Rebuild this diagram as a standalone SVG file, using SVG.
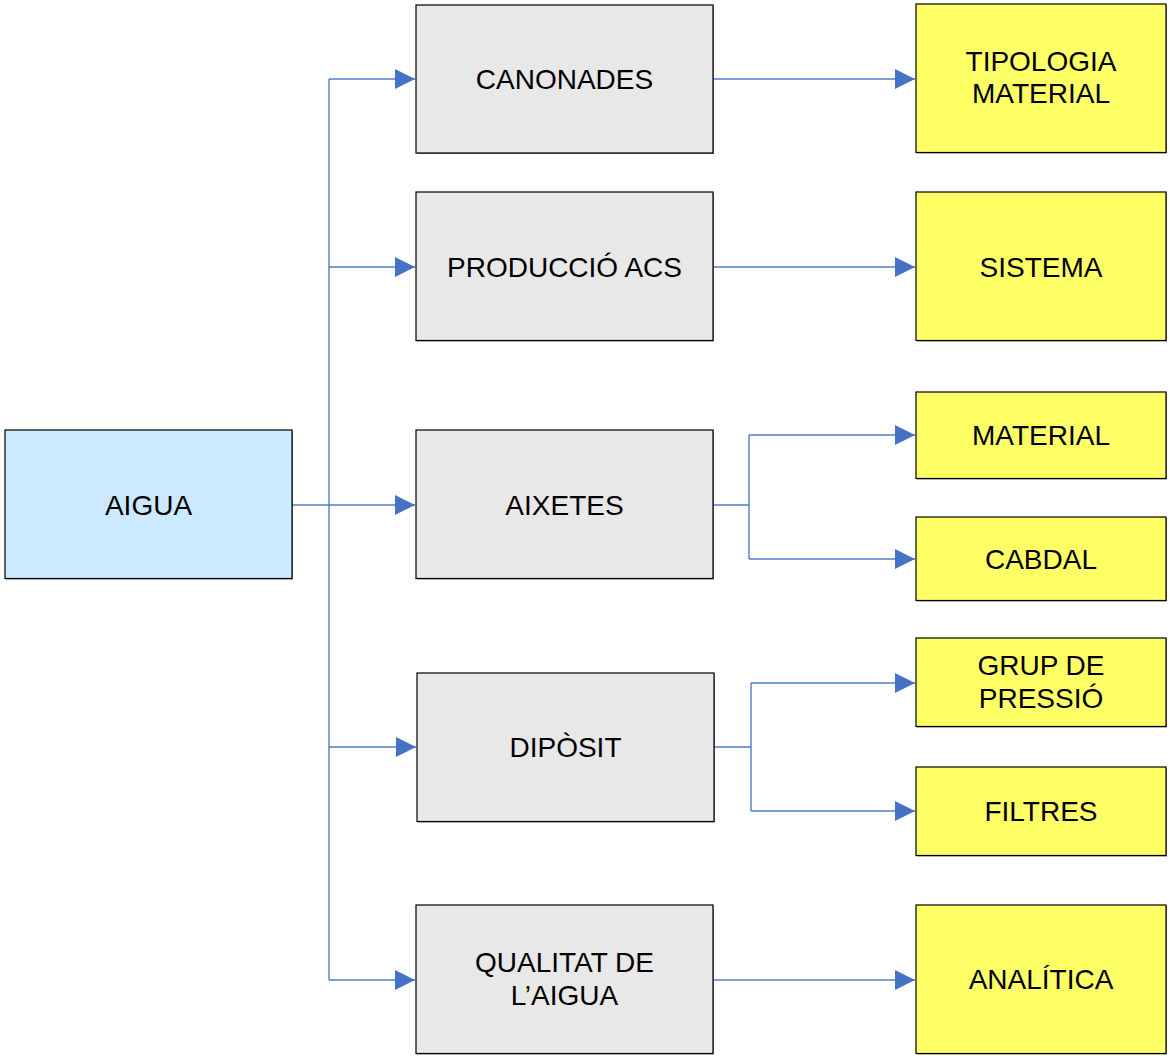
<svg xmlns="http://www.w3.org/2000/svg" width="1170" height="1058" viewBox="0 0 1170 1058">
<style>
.box{stroke:#000;stroke-width:1.2}
.sh{fill:#8a8a8a}
.gray{fill:#e8e8e8}
.blue{fill:#cceaff}
.yel{fill:#ffff66}
text{font-family:"Liberation Sans",Arial,sans-serif;font-size:28px;fill:#000;text-anchor:middle}
.c{fill:none;stroke:#4f7fc4;stroke-width:1.4}
</style>
<defs>
<marker id="arr" markerUnits="userSpaceOnUse" markerWidth="20" markerHeight="20" viewBox="0 0 19 19" refX="19" refY="9.5" orient="auto">
<path d="M0,0 L19,9.5 L0,19 z" fill="#4472c4"/>
</marker>
</defs>
<rect width="1170" height="1058" fill="#fff"/>
<g id="connectors">
<path class="c" d="M329,79 V980"/>
<path class="c" d="M292,505 H415" marker-end="url(#arr)"/>
<path class="c" d="M329,79 H415" marker-end="url(#arr)"/>
<path class="c" d="M329,267 H415" marker-end="url(#arr)"/>
<path class="c" d="M329,747 H416" marker-end="url(#arr)"/>
<path class="c" d="M329,980 H415" marker-end="url(#arr)"/>
<path class="c" d="M713,79 H915" marker-end="url(#arr)"/>
<path class="c" d="M713,267 H915" marker-end="url(#arr)"/>
<path class="c" d="M713,505 H749 M749,435 V559"/>
<path class="c" d="M749,435 H915" marker-end="url(#arr)"/>
<path class="c" d="M749,559 H915" marker-end="url(#arr)"/>
<path class="c" d="M714,747 H751 M751,683 V811"/>
<path class="c" d="M751,683 H915" marker-end="url(#arr)"/>
<path class="c" d="M751,811 H915" marker-end="url(#arr)"/>
<path class="c" d="M713,980 H915" marker-end="url(#arr)"/>
</g>
<g id="aigua">
<rect class="sh" x="6" y="431" width="287" height="148.5"/>
<rect class="box blue" x="5" y="430" width="287" height="148.5"/>
<text x="148.5" y="514.5">AIGUA</text>
</g>
<g id="canonades">
<rect class="sh" x="417" y="6" width="297" height="148"/>
<rect class="box gray" x="416" y="5" width="297" height="148"/>
<text x="564.5" y="88.5">CANONADES</text>
</g>
<g id="produccio">
<rect class="sh" x="417" y="193" width="297" height="148.5"/>
<rect class="box gray" x="416" y="192" width="297" height="148.5"/>
<text x="564.5" y="276.5">PRODUCCIÓ ACS</text>
</g>
<g id="aixetes">
<rect class="sh" x="417" y="431" width="297" height="148.5"/>
<rect class="box gray" x="416" y="430" width="297" height="148.5"/>
<text x="564.5" y="514.5">AIXETES</text>
</g>
<g id="diposit">
<rect class="sh" x="418" y="674" width="297" height="148.5"/>
<rect class="box gray" x="417" y="673" width="297" height="148.5"/>
<text x="565.5" y="756.5">DIPÒSIT</text>
</g>
<g id="qualitat">
<rect class="sh" x="417" y="906" width="297" height="148.5"/>
<rect class="box gray" x="416" y="905" width="297" height="148.5"/>
<text x="564.5" y="972">QUALITAT DE</text>
<text x="564.5" y="1005">L’AIGUA</text>
</g>
<g id="tipologia">
<rect class="sh" x="917" y="5" width="250" height="148.5"/>
<rect class="box yel" x="916" y="4" width="250" height="148.5"/>
<text x="1041" y="71">TIPOLOGIA</text>
<text x="1041" y="103">MATERIAL</text>
</g>
<g id="sistema">
<rect class="sh" x="917" y="193" width="250" height="148.5"/>
<rect class="box yel" x="916" y="192" width="250" height="148.5"/>
<text x="1041" y="276.5">SISTEMA</text>
</g>
<g id="material">
<rect class="sh" x="917" y="393" width="250" height="86.5"/>
<rect class="box yel" x="916" y="392" width="250" height="86.5"/>
<text x="1041" y="444.5">MATERIAL</text>
</g>
<g id="cabdal">
<rect class="sh" x="917" y="518" width="250" height="83.5"/>
<rect class="box yel" x="916" y="517" width="250" height="83.5"/>
<text x="1041" y="568.5">CABDAL</text>
</g>
<g id="grup">
<rect class="sh" x="917" y="639" width="250" height="88.5"/>
<rect class="box yel" x="916" y="638" width="250" height="88.5"/>
<text x="1041" y="675">GRUP DE</text>
<text x="1041" y="708">PRESSIÓ</text>
</g>
<g id="filtres">
<rect class="sh" x="917" y="768" width="250" height="88.5"/>
<rect class="box yel" x="916" y="767" width="250" height="88.5"/>
<text x="1041" y="820.5">FILTRES</text>
</g>
<g id="analitica">
<rect class="sh" x="917" y="906" width="250" height="148.5"/>
<rect class="box yel" x="916" y="905" width="250" height="148.5"/>
<text x="1041" y="988.5">ANALÍTICA</text>
</g>
</svg>
